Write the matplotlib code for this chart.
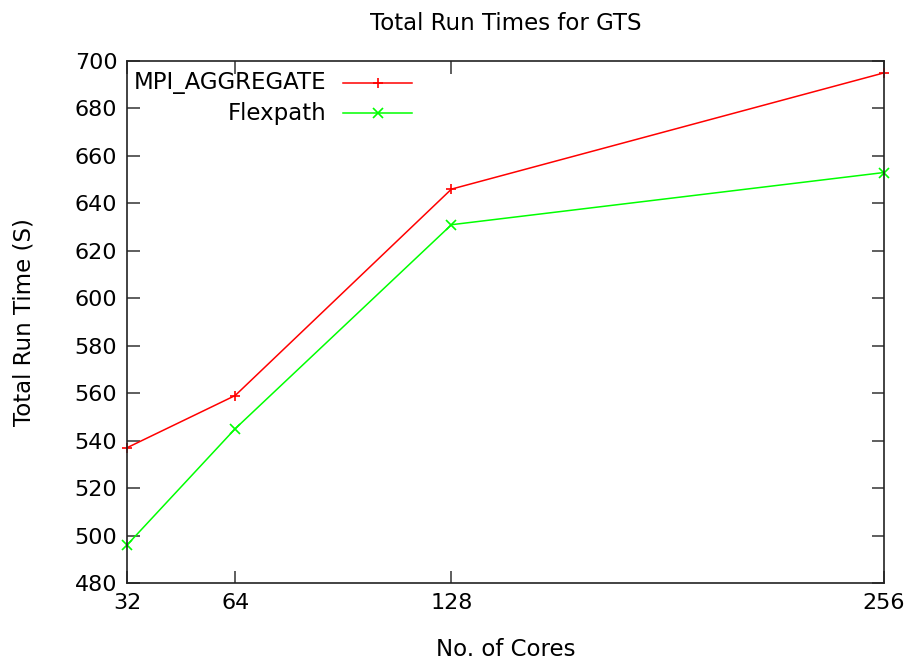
import numpy as np
import matplotlib.pyplot as plt

cores = [32, 64, 128, 256]
mpi_aggregate = [537, 559, 646, 695]
flexpath = [496, 545, 631, 653]
series = [("MPI_AGGREGATE", mpi_aggregate, "#ff0000", "+"),
          ("Flexpath", flexpath, "#00ff00", "x")]

fig = plt.figure(figsize=(9.11, 6.69), dpi=100)
ax = fig.add_axes([127/911, 1-583/669, 757/911, 522/669])

for name, vals, col, mk in series:
    ax.plot(cores, vals, color=col, marker=mk, markersize=7, mew=1.2, lw=1.1, clip_on=False)

ax.set_xlim(32, 256)
ax.set_ylim(480, 700)
ax.set_xticks(cores)
ax.set_yticks(np.arange(480, 701, 20))
ax.tick_params(direction="in", length=9, width=1.1, color="#333333", top=True, right=True,
               labelsize=16, pad=7)
for s in ax.spines.values():
    s.set_linewidth(1.2)
    s.set_color("#222222")

ax.set_title("Total Run Times for GTS", fontsize=16.5, pad=22)
ax.set_xlabel("No. of Cores", fontsize=16.5, labelpad=18)
ax.set_ylabel("Total Run Time (S)", fontsize=16.5, labelpad=28)

# gnuplot-style key: label right aligned, sample to the right
rows = [0.958, 0.900]
for (name, vals, col, mk), y in zip(series, rows):
    ax.text(0.264, y, name, transform=ax.transAxes, ha="right", va="center", fontsize=16.5)
    ax.plot([0.285, 0.3765], [y, y], transform=ax.transAxes, color=col, lw=1.1)
    ax.plot([0.331], [y], transform=ax.transAxes, color=col, marker=mk, markersize=7, mew=1.2)

fig.savefig("out.png", dpi=100)
